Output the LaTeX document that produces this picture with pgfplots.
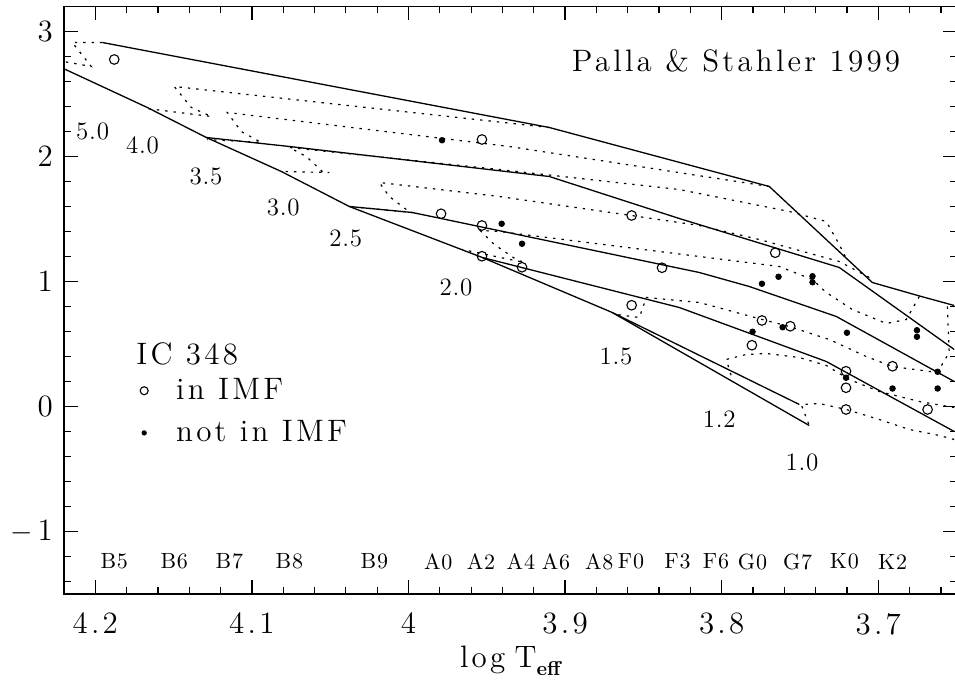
\documentclass[border=0pt]{standalone}
\usepackage{fontspec}
\setmainfont{lmroman12-regular.otf}[BoldFont=lmroman10-bold.otf]
\newfontfamily\wfont{lmroman12-regular.otf}[LetterSpace=10.5]
\newfontfamily\mfont{lmroman12-regular.otf}[LetterSpace=3]
\newfontfamily\sfont{lmroman10-regular.otf}[LetterSpace=4]
\usepackage{pgfplots}
\pgfplotsset{compat=1.18}
\newcommand\fbig{\wfont\fontsize{15.5}{18}\selectfont}
\newcommand\fmid{\mfont\fontsize{12.5}{15}\selectfont}
\newcommand\fsm{\sfont\fontsize{11}{13}\selectfont}
\begin{document}
\begin{tikzpicture}
\path[use as bounding box] (-32pt,-45.5pt) rectangle (445.5pt,297pt);
\begin{axis}[
  at={(0,0)}, anchor=south west, scale only axis,
  width=446.3pt, height=293.75pt,
  x dir=reverse,
  xmin=3.65, xmax=4.22, ymin=-1.5, ymax=3.2,
  xtick={3.7,3.8,3.9,4.0,4.1,4.2},
  xticklabels={3.7,3.8,3.9,4,4.1,4.2},
  ytick={-1,0,1,2,3},
  yticklabels={{$-$\,1},0,1,2,3},
  minor xtick={3.66,3.68,...,4.22},
  minor ytick={-1.4,-1.2,...,3.01},
  tick align=inside,
  major tick length=7pt, minor tick length=3.5pt,
  every tick/.style={black, line width=0.6pt},
  axis line style={black, line width=0.9pt},
  tick label style={font=\fbig},
  xticklabel style={yshift=-6pt},
  yticklabel style={xshift=-2pt},
  xlabel={log\hspace{0.3em}T\raisebox{-4pt}{\normalfont\bfseries\fontsize{10}{12}\selectfont eff}},
  x label style={at={(axis description cs:0.5,0)}, anchor=base, yshift=-37pt, font=\fbig},
  legend style={draw=none, fill=none, inner sep=0pt, row sep=9pt,
    at={(axis cs:4.1716,0.226)}, anchor=north west, font=\fbig,
    nodes={inner sep=0pt},
    /tikz/every odd column/.append style={column sep=14pt}},
  legend cell align=left,
  legend image code/.code={\draw[#1] plot coordinates {(0pt,0pt)};},
]
% birthline
\addplot[black, line width=0.65pt, forget plot] coordinates {(4.1955,2.912) (3.9101,2.232) (3.7696,1.76) (3.7038,0.992) (3.6725,0.88) (3.6515,0.808)};
% ZAMS
\addplot[black, line width=0.65pt, forget plot] coordinates {(4.2204,2.704) (4.1668,2.392) (4.1291,2.152) (4.0812,1.88) (4.0378,1.6) (3.9529,1.192) (3.8699,0.752) (3.7504,0.016)};
\addplot[black, line width=0.65pt, forget plot] coordinates {(3.8699,0.752) (3.7441,-0.152)};
% isochrones
\addplot[black, line width=0.65pt, forget plot] coordinates {(4.1291,2.152) (4.0761,2.08) (3.9101,1.84) (3.8271,1.504) (3.7249,1.112) (3.6515,0.456)};
\addplot[black, line width=0.65pt, forget plot] coordinates {(4.0378,1.6) (3.9976,1.552) (3.8143,1.072) (3.7824,0.96) (3.7268,0.72) (3.6515,0.2)};
\addplot[black, line width=0.65pt, forget plot] coordinates {(3.9529,1.192) (3.8271,0.792) (3.7332,0.36) (3.6515,-0.2)};
% evolutionary tracks
\addplot[black, line width=0.6pt, dash pattern=on 1.2pt off 3pt, forget plot] coordinates {(4.1955,2.912) (4.2147,2.912) (4.2026,2.72) (4.2204,2.76)};
\addplot[black, line width=0.6pt, dash pattern=on 1.2pt off 3pt, forget plot] coordinates {(3.9101,2.232) (4.1496,2.56) (4.1387,2.392) (4.1259,2.32) (4.1674,2.384)};
\addplot[black, line width=0.6pt, dash pattern=on 1.2pt off 3pt, forget plot] coordinates {(3.7696,1.76) (3.9356,2.08) (4.1157,2.352) (4.1068,2.2) (4.094,2.112) (4.1285,2.136)};
\addplot[black, line width=0.6pt, dash pattern=on 1.2pt off 3pt, forget plot] coordinates {(3.7211,1.2) (3.7249,1.296) (3.7332,1.48) (3.7568,1.56) (3.8271,1.736) (3.942,1.896) (4.0761,2.072) (4.0653,2.0) (4.055,1.88) (4.0506,1.872) (4.0812,1.88)};
\addplot[black, line width=0.6pt, dash pattern=on 1.2pt off 3pt, forget plot] coordinates {(3.7057,1.032) (3.7249,1.16) (3.776,1.336) (3.8143,1.448) (3.8577,1.528) (3.942,1.68) (4.0186,1.792) (4.0123,1.68) (4.0014,1.576) (3.9976,1.552) (4.0378,1.6)};
\addplot[black, line width=0.6pt, dash pattern=on 1.2pt off 3pt, forget plot] coordinates {(3.6738,0.88) (3.6821,0.696) (3.6949,0.664) (3.7166,0.776) (3.7332,0.912) (3.7421,1.016) (3.7632,1.12) (3.8143,1.2) (3.942,1.4) (3.9542,1.408) (3.9452,1.296) (3.9312,1.176) (3.9261,1.152) (3.9656,1.256)};
\addplot[black, line width=0.6pt, dash pattern=on 1.2pt off 3pt, forget plot] coordinates {(3.6559,0.8) (3.6547,0.432) (3.6623,0.272) (3.6911,0.32) (3.7077,0.4) (3.7313,0.536) (3.7568,0.64) (3.7741,0.696) (3.8143,0.832) (3.8481,0.872) (3.8526,0.712) (3.8673,0.736)};
\addplot[black, line width=0.6pt, dash pattern=on 1.2pt off 3pt, forget plot] coordinates {(3.6515,-0.008) (3.6738,0.04) (3.6994,0.12) (3.7185,0.216) (3.7332,0.328) (3.7504,0.392) (3.7715,0.424) (3.7843,0.416) (3.7971,0.376) (3.7932,0.216)};
\addplot[black, line width=0.6pt, dash pattern=on 1.2pt off 3pt, forget plot] coordinates {(3.6515,-0.264) (3.661,-0.232) (3.6802,-0.184) (3.6994,-0.104) (3.7204,-0.024) (3.7377,0.024) (3.7492,0.016) (3.7441,-0.152)};
% stars
\addplot[only marks, mark=o, mark size=2.4pt, mark options={line width=0.55pt, black}, legend image post style={mark size=2pt}] coordinates {
(4.1879,2.776) (3.9531,2.136) (3.9792,1.542) (3.9531,1.448) (3.9531,1.202) (3.9275,1.114)
(3.8575,1.528) (3.8575,0.810) (3.8381,1.110) (3.7658,1.230) (3.7743,0.688) (3.7562,0.642)
(3.7807,0.490) (3.7206,0.282) (3.7206,0.150) (3.7206,-0.024) (3.6909,0.322) (3.6685,-0.024)};
\addlegendentry{in IMF}
\addplot[only marks, mark=*, mark size=1.4pt, mark options={black, fill=black}, legend image post style={mark size=1.1pt}] coordinates {
(3.9786,2.130) (3.9405,1.462) (3.9275,1.302) (3.7743,0.982) (3.7637,1.038) (3.7420,1.042)
(3.7420,0.994) (3.7803,0.598) (3.7611,0.634) (3.7200,0.590) (3.7206,0.230) (3.6753,0.610)
(3.6753,0.558) (3.6621,0.278) (3.6909,0.144) (3.6621,0.144)};
\addlegendentry{not in IMF}
% texts
\node[anchor=base east, font=\fbig] at (axis cs:3.6815,2.682) {Palla \& Stahler 1999};
\node[anchor=base west, font=\fbig, inner sep=0pt] at (axis cs:4.174,0.336) {IC 348};
\node[font=\fmid] at (axis cs:4.2017,2.202) {5.0};
\node[font=\fmid] at (axis cs:4.1698,2.09) {4.0};
\node[font=\fmid] at (axis cs:4.1293,1.842) {3.5};
\node[font=\fmid] at (axis cs:4.080,1.59) {3.0};
\node[font=\fmid] at (axis cs:4.040,1.342) {2.5};
\node[font=\fmid] at (axis cs:3.9697,0.95) {2.0};
\node[font=\fmid] at (axis cs:3.8675,0.402) {1.5};
\node[font=\fmid] at (axis cs:3.8015,-0.104) {1.2};
\node[font=\fmid] at (axis cs:3.7487,-0.45) {1.0};
\node[font=\fsm] at (axis cs:4.1879,-1.24) {B5};
\node[font=\fsm] at (axis cs:4.1496,-1.24) {B6};
\node[font=\fsm] at (axis cs:4.1144,-1.24) {B7};
\node[font=\fsm] at (axis cs:4.0761,-1.24) {B8};
\node[font=\fsm] at (axis cs:4.0218,-1.24) {B9};
\node[font=\fsm] at (axis cs:3.981,-1.24) {A0};
\node[font=\fsm] at (axis cs:3.9537,-1.24) {A2};
\node[font=\fsm] at (axis cs:3.9282,-1.24) {A4};
\node[font=\fsm] at (axis cs:3.9058,-1.24) {A6};
\node[font=\fsm] at (axis cs:3.8782,-1.24) {A8};
\node[font=\fsm] at (axis cs:3.8579,-1.24) {F0};
\node[font=\fsm] at (axis cs:3.8282,-1.24) {F3};
\node[font=\fsm] at (axis cs:3.8036,-1.24) {F6};
\node[font=\fsm] at (axis cs:3.7803,-1.24) {G0};
\node[font=\fsm] at (axis cs:3.7515,-1.24) {G7};
\node[font=\fsm] at (axis cs:3.7217,-1.24) {K0};
\node[font=\fsm] at (axis cs:3.6909,-1.24) {K2};
\end{axis}
\end{tikzpicture}
\end{document}
